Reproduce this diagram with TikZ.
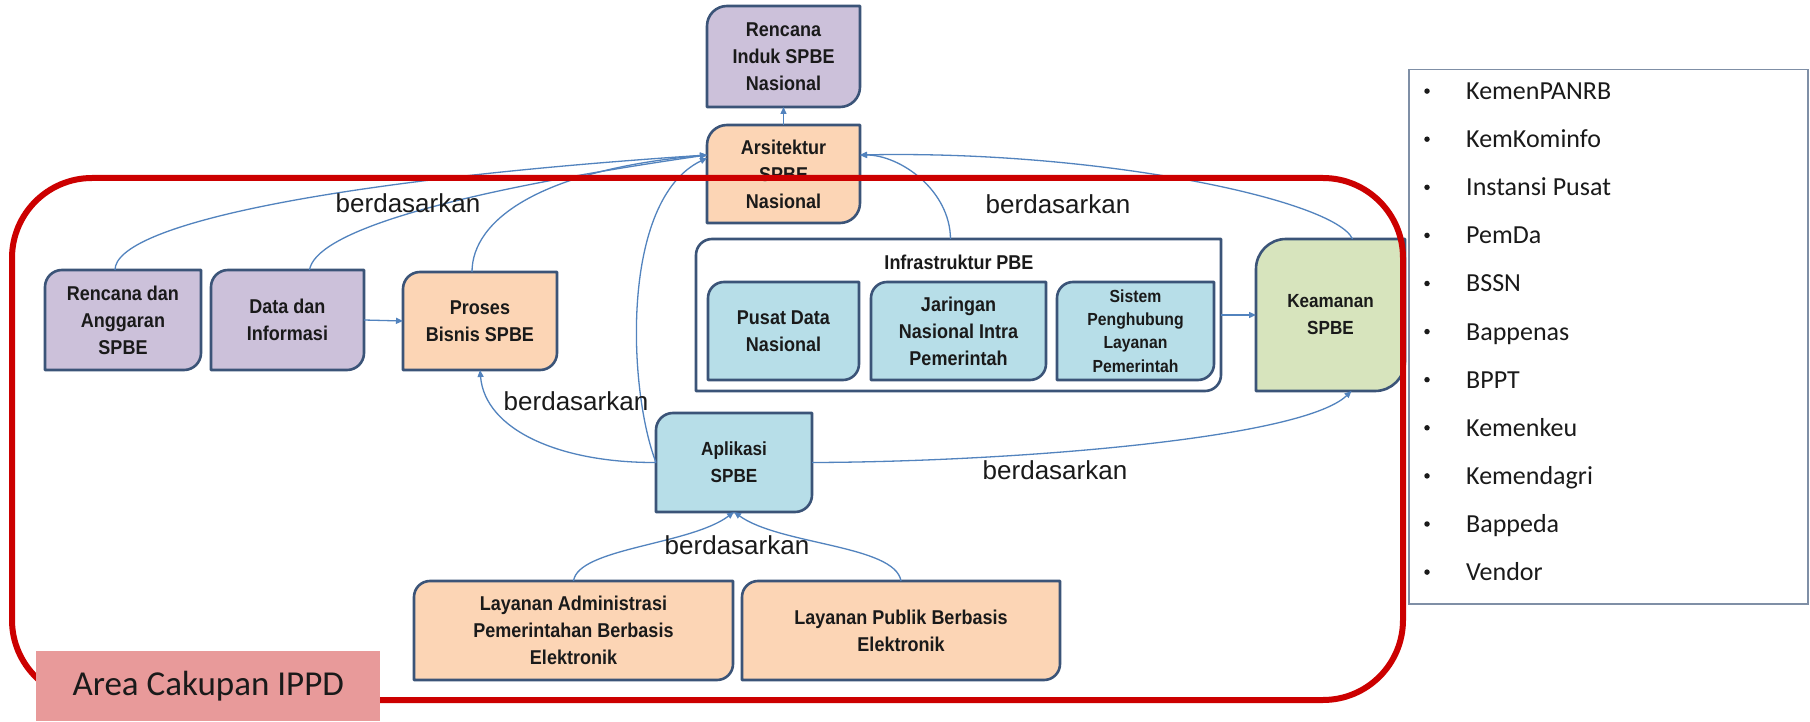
\documentclass[tikz,border=0pt]{standalone}
\usepackage{fontspec}
\setmainfont{Liberation Sans}
\newfontfamily\boxfont{Liberation Sans}[FakeStretch=0.9]
\newfontfamily\calfont{Carlito}
\usetikzlibrary{arrows.meta,calc}
\pgfdeclarelayer{background}
\pgfsetlayers{background,main}

\definecolor{boxedge}{HTML}{3B5478}
\definecolor{lilac}{HTML}{CCC1DA}
\definecolor{peach}{HTML}{FCD5B5}
\definecolor{cyanbox}{HTML}{B7DEE8}
\definecolor{greenbox}{HTML}{D7E4BD}
\definecolor{connblue}{HTML}{5283BE}
\definecolor{scopered}{HTML}{CC0000}
\definecolor{pinklab}{HTML}{E89A9A}
\definecolor{listedge}{HTML}{7F8FA6}
\definecolor{textdark}{HTML}{1A1A1A}

\newcommand\txtbox{\boxfont\bfseries\fontsize{20}{27}\selectfont}
\newcommand\txtboxs{\boxfont\bfseries\fontsize{19}{27}\selectfont}
\newcommand\txtsmall{\boxfont\bfseries\fontsize{17.5}{23.3}\selectfont}
\newcommand\lblfont{\fontsize{26}{30}\selectfont}
\newcommand\itemfont{\calfont\fontsize{26}{30}\selectfont}

% box with rounded top-left and bottom-right corners:
% name, left, top, right, bottom, radius, fill, font, text
\newcommand\dbox[9]{%
  \node[boxtext, font=#8, minimum width={(#4-#2)*1pt}, minimum height={(#3-#5)*1pt}]
    (#1) at ({(#2+#4)/2},{(#3+#5)/2}) {#9};
  \begin{pgfonlayer}{background}
    \draw[boxline, fill=#7] (#2,#3-#6) arc[start angle=180,end angle=90,radius=#6pt]
      -- (#4,#3) -- (#4,#5+#6) arc[start angle=0,end angle=-90,radius=#6pt]
      -- (#2,#5) -- cycle;
  \end{pgfonlayer}}

\tikzset{
  boxline/.style={draw=boxedge, line width=2.6pt, line join=round},
  boxtext/.style={inner sep=0pt, outer sep=0pt, align=center, text=textdark},
  conn/.style={draw=connblue, line width=1.3pt, -{Triangle[length=7pt,width=6pt]}},
  lbl/.style={font=\lblfont, text=textdark, inner sep=0pt},
  item/.style={font=\itemfont, text=textdark, anchor=base west, inner sep=0pt},
  bulletdot/.style={fill=textdark, circle, inner sep=0pt, minimum size=5.5pt},
  scopeline/.style={draw=scopered, line width=6pt, rounded corners=80pt},
}

\begin{document}
\begin{tikzpicture}[x=1pt,y=1pt]
\begin{pgfonlayer}{background}
  \fill[white] (0,0) rectangle (1810,721);
\end{pgfonlayer}
\useasboundingbox (0,0) rectangle (1810,721);

% boxes
\dbox{rip}{707}{715}{860}{614}{20}{lilac}{\txtbox}{Rencana\\Induk SPBE\\Nasional}
\dbox{ars}{707}{596}{860}{498}{20}{peach}{\txtbox}{Arsitektur\\SPBE\\Nasional}
\dbox{rda}{45}{451}{201}{351}{17}{lilac}{\txtbox}{Rencana dan\\Anggaran\\SPBE}
\dbox{ddi}{211}{451}{364}{351}{17}{lilac}{\txtbox}{Data dan\\Informasi}
\dbox{pbs}{403}{449}{557}{351}{17}{peach}{\txtbox}{Proses\\Bisnis SPBE}
\dbox{infra}{696}{482}{1221}{330}{16}{white}{\txtbox}{}
\dbox{pdn}{708}{439}{859}{341}{16}{cyanbox}{\txtbox}{Pusat Data\\Nasional}
\dbox{jni}{871}{439}{1046}{341}{16}{cyanbox}{\txtbox}{Jaringan\\Nasional Intra\\Pemerintah}
\dbox{sph}{1057}{439}{1214}{341}{16}{cyanbox}{\txtsmall}{Sistem\\Penghubung\\Layanan\\Pemerintah}
\dbox{kea}{1256}{482}{1405}{330}{30}{greenbox}{\txtboxs}{Keamanan\\SPBE}
\dbox{apl}{656}{308}{812}{209}{17}{cyanbox}{\txtboxs}{Aplikasi\\SPBE}
\dbox{lap}{414}{140}{733}{41}{16}{peach}{\txtbox}{Layanan Administrasi\\Pemerintahan Berbasis\\Elektronik}
\dbox{lpb}{742}{140}{1060}{41}{16}{peach}{\txtbox}{Layanan Publik Berbasis\\Elektronik}
\node[boxtext, font=\txtbox] (infratitle) at (959,459) {Infrastruktur PBE};

% connectors
\draw[conn] (ars.north) -- (rip.south);
\draw[conn] ([xshift=-8pt]rda.north) .. controls (115,496) and (330,541) .. ([yshift=19pt]ars.west);
\draw[conn] ([xshift=22pt]ddi.north) .. controls (315,486) and (430,526) .. ([yshift=19pt]ars.west);
\draw[conn] ([xshift=-8pt]pbs.north) .. controls (472,501) and (540,551) .. ([yshift=19pt]ars.west);
\draw[conn] (apl.west) .. controls (628,331) and (620,521) .. ([yshift=16pt]ars.west);
\draw[conn] (apl.west) .. controls (560,258) and (485,291) .. (pbs.south);
\draw[conn] ([xshift=-8pt]infra.north) .. controls (950,531) and (900,566) .. ([yshift=19pt]ars.east);
\draw[conn] ([xshift=22pt]kea.north) .. controls (1335,521) and (1100,571) .. ([yshift=19pt]ars.east);
\draw[conn] (infra.east) -- (kea.west);
\draw[conn] (ddi.east) -- (pbs.west);
\draw[conn] (apl.east) .. controls (1000,259) and (1300,281) .. ([xshift=21pt]kea.south);
\draw[conn] (lap.north) .. controls (578,173) and (690,176) .. (apl.south);
\draw[conn] (lpb.north) .. controls (895,176) and (780,176) .. (apl.south);

% relation labels
\node[lbl] (lb1) at (408,518) {berdasarkan};
\node[lbl] (lb2) at (1058,517) {berdasarkan};
\node[lbl] (lb3) at (576,320) {berdasarkan};
\node[lbl] (lb4) at (1055,251) {berdasarkan};
\node[lbl] (lb5) at (737,176) {berdasarkan};

% stakeholder list
\node[draw=listedge, line width=1.5pt, minimum width=399pt, minimum height=534pt,
      inner sep=0pt, anchor=north west] (list) at (1408,652) {};
\foreach \t [count=\k] in {KemenPANRB, KemKominfo, Instansi Pusat, PemDa, BSSN,
    Bappenas, BPPT, Kemenkeu, Kemendagri, Bappeda, Vendor} {
  \node[bulletdot] (bul\k) at (1427,{678-48.1*\k}) {};
  \node[item] (item\k) at (1466,{669.5-48.1*\k}) {\t};
}

% scope outline and its label
\draw[scopeline] (12,21) rectangle (1403,543);
\node[fill=pinklab, minimum width=344pt, minimum height=70pt, inner sep=0pt,
      anchor=south west, font=\calfont\fontsize{35}{40}\selectfont, text=textdark]
      (area) at (36,0) {Area Cakupan IPPD};
\end{tikzpicture}
\end{document}
